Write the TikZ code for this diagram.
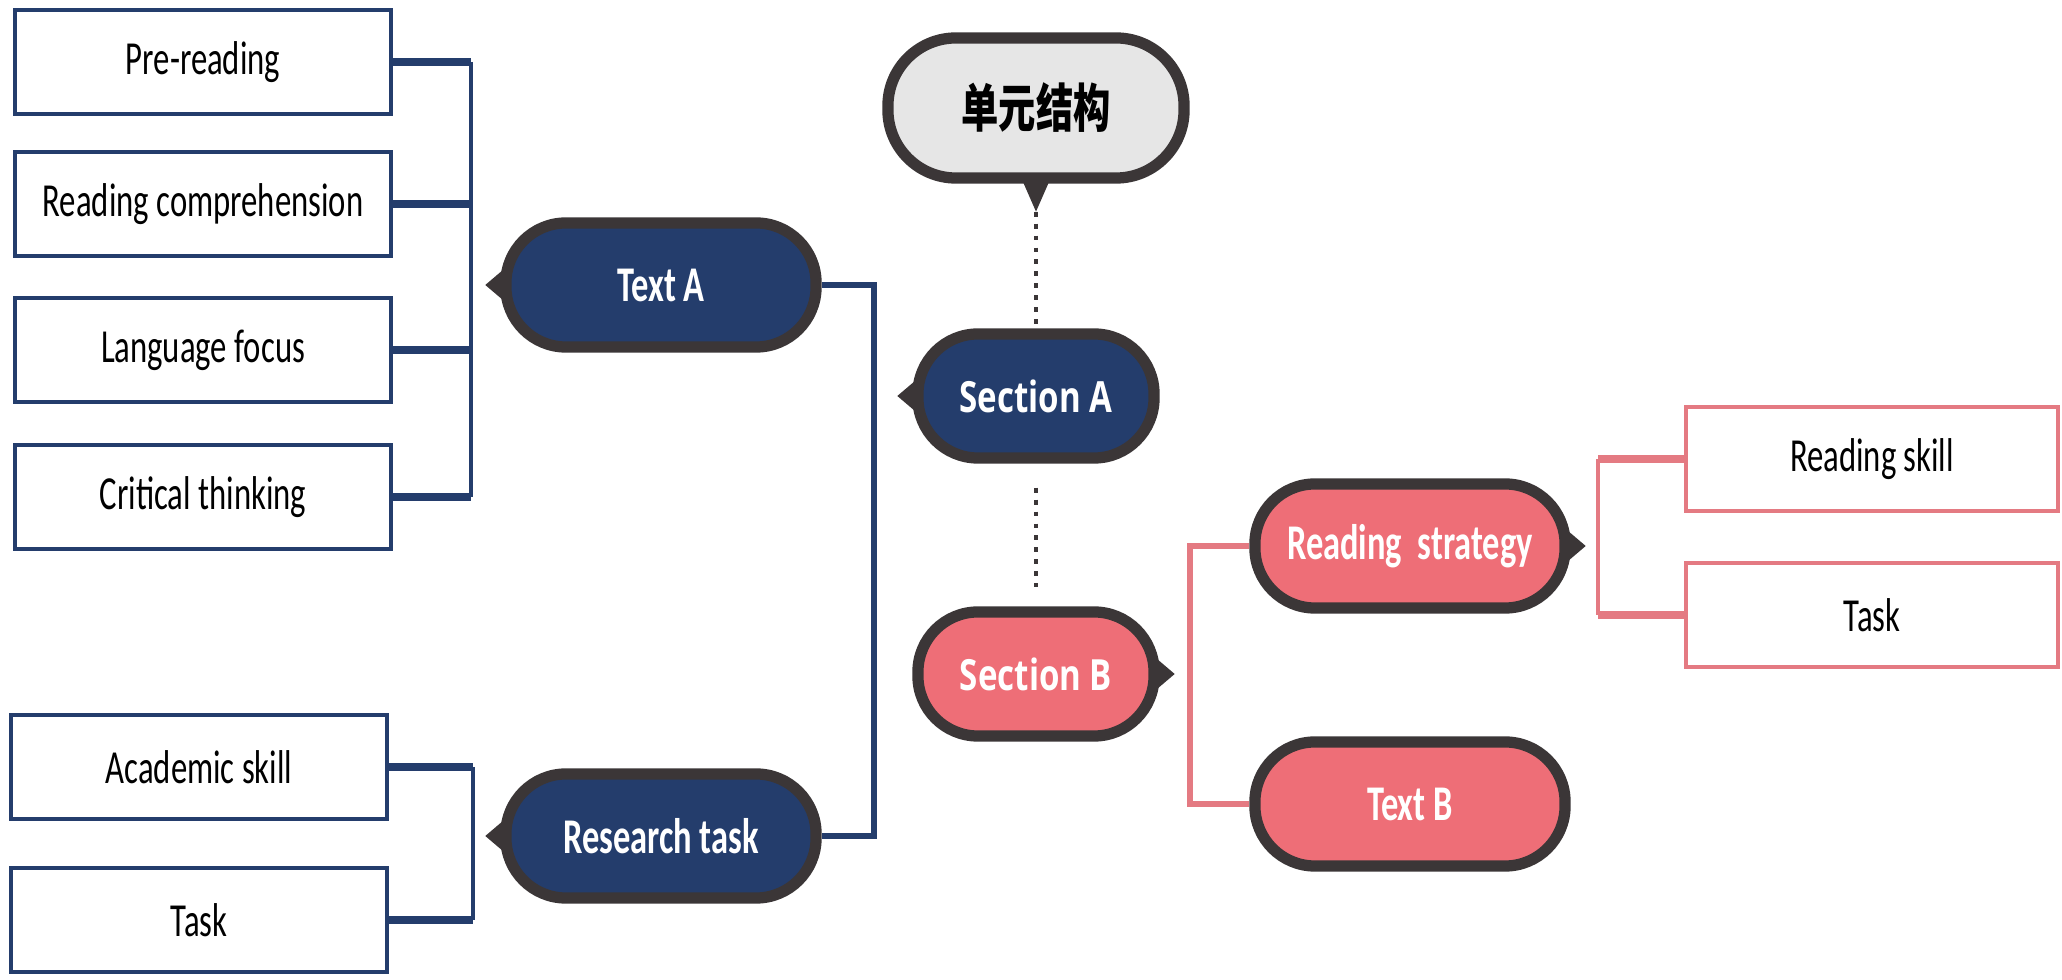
\documentclass[tikz,border=0pt]{standalone}
\usepackage{fontspec}
\usepackage{graphicx}
\setmainfont{Carlito}
\newfontfamily\cjkfont{Noto Sans CJK SC}
\newfontfamily\secfont{Open Sans}
\usetikzlibrary{positioning,calc,backgrounds}

\definecolor{navy}{HTML}{243D6C}
\definecolor{salmon}{HTML}{EE6E77}
\definecolor{rim}{HTML}{3B3637}
\definecolor{pale}{HTML}{E6E6E6}
\definecolor{boxred}{HTML}{E47A82}

\newcommand{\tall}[2][1.45]{\scalebox{1}[#1]{#2}}

\tikzset{
  leaf/.style={draw=navy, line width=1.1pt, fill=white, minimum width=3.75cm, minimum height=1.04cm, inner sep=0pt, font=\fontsize{9.3}{11}\selectfont},
  leafred/.style={leaf, draw=boxred, minimum width=3.72cm},
  pill/.style={draw=rim, line width=3.2pt, rounded corners=0.6cm, minimum width=3.1cm, minimum height=1.24cm, inner sep=0pt, text=white, font=\bfseries\fontsize{9.8}{11}\selectfont},
  secpill/.style={pill, minimum width=2.36cm, font=\secfont\bfseries\fontsize{9.4}{11}\selectfont},
  toppill/.style={pill, fill=pale, text=black, minimum width=2.96cm, minimum height=1.4cm, rounded corners=0.68cm, font=\cjkfont\bfseries\fontsize{10.6}{12}\selectfont},
  stub/.style={line width=2pt},
  rail/.style={line width=1.2pt}
}

\begin{document}
\begin{tikzpicture}[x=0.01cm, y=-0.01cm]
\useasboundingbox (0,0) rectangle (2062,980);

% left boxes
\node[leaf] (pre) at (203,62) {\tall{Pre-reading}};
\node[leaf] (rc) at (203,204) {\tall{Reading comprehension}};
\node[leaf] (lf) at (203,350) {\tall{Language focus}};
\node[leaf] (ct) at (203,497) {\tall{Critical thinking}};
\node[leaf] (as) at (199,767) {\tall{Academic skill}};
\node[leaf] (tl) at (199,920) {\tall{Task}};

% pills
\node[pill, fill=navy] (ta) at (661,285) {\tall{Text A}};
\node[pill, fill=navy] (rt) at (661,836) {\tall{Research task}};
\node[toppill] (unit) at (1036,108) {\tall[1.4]{单元结构}};
\node[secpill, fill=navy] (sa) at (1036,396) {\tall[1.3]{Section A}};
\node[secpill, fill=salmon] (sb) at (1036,674) {\tall[1.3]{Section B}};
\node[pill, fill=salmon] (rs) at (1410,546) {\tall{Reading\ \ strategy}};
\node[pill, fill=salmon] (tb) at (1410,804) {\tall{Text B}};

% right boxes
\node[leafred] (rk) at (1872,459) {\tall{Reading skill}};
\node[leafred] (tr) at (1872,615) {\tall{Task}};

% pointers
\foreach \n in {ta,rt,sa}
  \fill[rim] ($(\n.west)+(5,-17)$) -- ($(\n.west)+(-15,0)$) -- ($(\n.west)+(5,17)$) -- cycle;
\foreach \n in {sb,rs}
  \fill[rim] ($(\n.east)+(-5,-17)$) -- ($(\n.east)+(15,0)$) -- ($(\n.east)+(-5,17)$) -- cycle;
\fill[rim] ($(unit.south)+(-14,-4)$) -- ($(unit.south)+(0,28)$) -- ($(unit.south)+(14,-4)$) -- cycle;

\coordinate (brA) at (471,0);
\coordinate (brR) at (473,0);
\coordinate (jA) at (874,0);
\coordinate (brB) at (1190,0);
\coordinate (brS) at (1598,0);

\begin{scope}[on background layer]
  \foreach \n in {pre,rc,lf,ct}
    \draw[navy, stub] (\n.east) -- (\n.east -| brA);
  \draw[navy, rail] (pre.east -| brA) -- (ct.east -| brA);
  \foreach \n in {as,tl}
    \draw[navy, stub] (\n.east) -- (\n.east -| brR);
  \draw[navy, rail] (as.east -| brR) -- (tl.east -| brR);
  \draw[navy, line width=1.5pt] (ta.east) -- (ta.east -| jA) -- (rt.east -| jA) -- (rt.east);
  \draw[rim, line width=1.4pt, dotted] ($(unit.south)+(0,28)$) -- (sa.north);
  \draw[rim, line width=1.4pt, dotted] ($(sa.south)+(0,24)$) -- ($(sb.north)+(0,-19)$);
  \draw[boxred, line width=1.5pt] (rs.west) -- (rs.west -| brB) -- (tb.west -| brB) -- (tb.west);
  \foreach \n in {rk,tr}
    \draw[boxred, stub] (\n.west) -- (\n.west -| brS);
  \draw[boxred, rail] (rk.west -| brS) -- (tr.west -| brS);
\end{scope}
\end{tikzpicture}
\end{document}
